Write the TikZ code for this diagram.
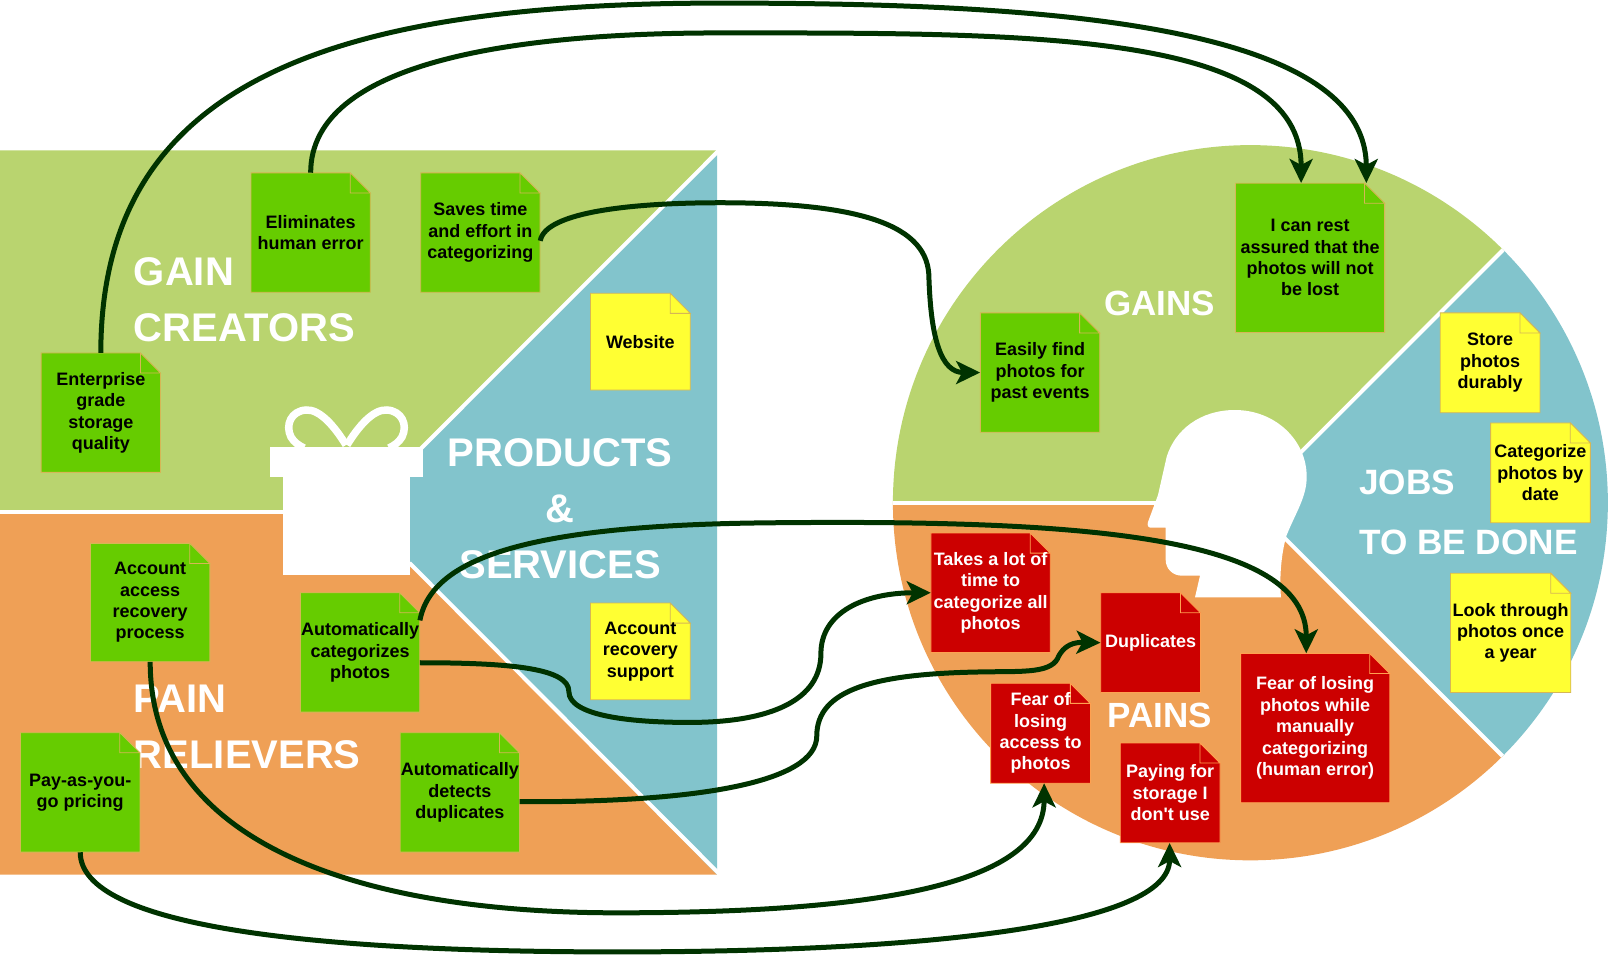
\documentclass[tikz,border=0pt]{standalone}
\usepackage{fontspec}
\setmainfont{Liberation Sans}
\newfontfamily\rawfont{Liberation Sans}
\usetikzlibrary{arrows.meta,calc}
\definecolor{panelgreen}{HTML}{B9D46F}
\definecolor{panelorange}{HTML}{EFA056}
\definecolor{panelblue}{HTML}{82C4CC}
\definecolor{notegreen}{HTML}{66CC00}
\definecolor{noteyellow}{HTML}{FFFF33}
\definecolor{notered}{HTML}{CC0000}
\definecolor{edgegold}{HTML}{D6B656}
\definecolor{edgepink}{HTML}{FFA050}
\definecolor{linkgreen}{HTML}{003300}
\tikzset{
  greennote/.style={fill=notegreen,draw=edgegold,line width=0.8pt},
  yellownote/.style={fill=noteyellow,draw=edgegold,line width=0.8pt},
  rednote/.style={fill=notered,draw=edgepink,line width=0.8pt},
  notetext/.style={align=center,inner sep=0pt,font=\fontsize{18}{21.4}\selectfont\bfseries},
  bigleft/.style={align=left,inner sep=0pt,text=white,font=\fontsize{40}{56}\selectfont\bfseries},
  bigcentre/.style={align=center,inner sep=0pt,text=white,font=\fontsize{40}{56}\selectfont\bfseries},
  bigright/.style={align=left,inner sep=0pt,text=white,font=\fontsize{35.2}{60}\selectfont\bfseries},
  gap/.style={draw=white,line width=4pt},
  link/.style={draw=linkgreen,line width=5pt,-{Stealth[length=24pt,width=23pt,inset=6pt]}},
}
% name, style, x1, y1, x2, y2, text colour, text
\newcommand{\stickynote}[8]{%
  \draw[#2,line join=miter] (#3,#4) -- ({#5-19.5},#4) -- (#5,{#4+19.5}) -- (#5,#6) -- (#3,#6) -- cycle;
  \draw[#2,line join=miter] ({#5-19.5},#4) -- ({#5-19.5},{#4+19.5}) -- (#5,{#4+19.5}) -- cycle;
  \node[notetext,text=#7,minimum width={(#5-#3)*1.0287pt},minimum height={(#6-#4)*1.0287pt}] (#1) at ({(#3+#5)/2},{(#4+#6)/2}) {#8};
}
\begin{document}
\begin{tikzpicture}[x=1.0287pt,y=-1.0291pt]
\useasboundingbox (0,0) rectangle (1568,928);
\fill[white] (0,0) rectangle (1568,928);
% left panel
\fill[panelgreen] (0,146) -- (697,146) -- (349,497) -- (0,497) -- cycle;
\fill[panelorange] (0,497) -- (349,497) -- (697,850) -- (0,850) -- cycle;
\fill[panelblue] (697,146) -- (697,850) -- (349,497) -- cycle;
\draw[gap] (0,497.5) -- (349,497.5);
\draw[gap] (699,146) -- (400,445);
\draw[gap] (398,547) -- (699,849);
% right panel
\begin{scope}
\clip (1215.5,488.5) circle (347.5);
\fill[panelgreen] (860,489) -- (1215,489) -- (1570,134) -- (860,134) -- cycle;
\fill[panelorange] (860,489) -- (1215,489) -- (1570,844) -- (860,844) -- cycle;
\fill[panelblue] (1215,489) -- (1570,134) -- (1570,844) -- cycle;
\draw[gap] (860,489) -- (1215,489);
\draw[gap] (1215,489) -- (1570,134);
\draw[gap] (1215,489) -- (1570,844);
\end{scope}
% headings
\node[bigleft,anchor=west] (gaincreators) at (130,291.5) {GAIN\\CREATORS};
\node[bigcentre] (products) at (544.5,494.5) {PRODUCTS\\\&\\SERVICES};
\node[bigleft,anchor=west] (painrelievers) at (130,706) {PAIN\\RELIEVERS};
\node[inner sep=0pt,text=white,font=\fontsize{35}{40}\selectfont\bfseries] (gains) at (1127.5,295) {GAINS};
\node[inner sep=0pt,text=white,font=\fontsize{35}{40}\selectfont\bfseries] (pains) at (1127.5,695) {PAINS};
\node[bigright,anchor=west] (jobs) at (1321,498) {JOBS\\TO BE DONE};
% gift and head, in full-size pixels
\begin{scope}[x=1pt,y=-1pt]
\draw[white,line width=7.5pt] (346,445) .. controls (335,427) and (320,409) .. (306,410) .. controls (291,411) and (285,425) .. (291,437) .. controls (294,442) and (298,445) .. (304,448);
\draw[white,line width=7.5pt] (347,445) .. controls (358,427) and (373,409) .. (387,410) .. controls (402,411) and (408,425) .. (402,437) .. controls (399,442) and (395,445) .. (389,448);
\fill[white] (270,447) rectangle (423,477);
\fill[white] (283,477) rectangle (410,575);
\fill[white] (1235,410) .. controls (1275,410) and (1306.7,440) .. (1306.7,476.7) .. controls (1306.7,497) and (1296,512) .. (1286.7,535) .. controls (1282,550) and (1279,575) .. (1281,597.3) -- (1195,597.3) -- (1200,575.7) -- (1182,575.7) .. controls (1172,575.7) and (1165.7,568) .. (1165.7,560) -- (1165.7,527.7) -- (1151,527.7) .. controls (1148,527.7) and (1147,525) .. (1148,522) -- (1158,495) -- (1166.7,456.7) .. controls (1175,430) and (1200,410) .. (1235,410) -- cycle;
\end{scope}
% notes, left
\stickynote{enterprise}{greennote}{40}{343}{156}{459}{black}{Enterprise\\grade\\storage\\quality}
\stickynote{eliminates}{greennote}{244}{168}{360}{284}{black}{Eliminates\\human error}
\stickynote{saves}{greennote}{409}{168}{525}{284}{black}{Saves time\\and effort in\\categorizing}
\stickynote{website}{yellownote}{574}{285}{671}{379}{black}{Website}
\stickynote{support}{yellownote}{574}{586}{671}{680}{black}{Account\\recovery\\support}
\stickynote{access}{greennote}{88}{528}{204}{643}{black}{Account\\access\\recovery\\process}
\stickynote{autocat}{greennote}{292}{576}{408}{692}{black}{Automatically\\categorizes\\photos}
\stickynote{payg}{greennote}{20}{712}{136}{828}{black}{Pay-as-you-\\go pricing}
\stickynote{autodup}{greennote}{389}{712}{505}{828}{black}{Automatically\\detects\\duplicates}
% notes, right
\stickynote{rest}{greennote}{1201}{178}{1346}{323}{black}{I can rest\\assured that the\\photos will not\\be lost}
\stickynote{easily}{greennote}{953}{304}{1069}{420}{black}{Easily find\\photos for\\past events}
\stickynote{store}{yellownote}{1400}{304}{1497}{401}{black}{Store\\photos\\durably}
\stickynote{bydate}{yellownote}{1449}{411}{1546}{508}{black}{Categorize\\photos by\\date}
\stickynote{look}{yellownote}{1410}{557}{1527}{673}{black}{Look through\\photos once\\a year}
\stickynote{takes}{rednote}{905}{518}{1021}{634}{white}{Takes a lot of\\time to\\categorize all\\photos}
\stickynote{dups}{rednote}{1070}{576}{1167}{673}{white}{Duplicates}
\stickynote{fearaccess}{rednote}{963}{664}{1060}{761}{white}{Fear of\\losing\\access to\\photos}
\stickynote{paying}{rednote}{1089}{722}{1186}{819}{white}{Paying for\\storage I\\{\rawfont\bfseries don't} use}
\stickynote{fearmanual}{rednote}{1206}{635}{1351}{780}{white}{Fear of losing\\photos while\\manually\\categorizing\\(human error)}
% connectors
\draw[link] (enterprise.north) .. controls (98,80) and (320,3) .. (700,3) .. controls (1000,3) and (1328,20) .. ($(rest.north east)+(-18,0)$);
\draw[link] (eliminates.north) .. controls (302,60) and (500,32) .. (700,32) .. controls (1000,32) and (1265,30) .. ($(rest.north west)+(64,0)$);
\draw[link] ($(saves.east)+(0,8)$) .. controls (530,205) and (620,197) .. (700,197) .. controls (840,197) and (903,220) .. (903,270) .. controls (905,330) and (915,362) .. (easily.west);
\draw[link] ($(autocat.north east)+(0,27)$) .. controls (420,540) and (520,510) .. (750,508) .. controls (1050,505) and (1270,520) .. ($(fearmanual.north west)+(64,0)$);
\draw[link] ($(autocat.east)+(0,10)$) .. controls (500,644) and (553,650) .. (553,672) .. controls (553,695) and (610,702) .. (670,702) .. controls (750,702) and (798,680) .. (798,635) .. controls (798,595) and (840,576) .. (takes.west);
\draw[link] ($(autodup.east)+(0,9)$) .. controls (680,780) and (794,760) .. (794,715) .. controls (794,670) and (850,655) .. (950,653) .. controls (990,652) and (1020,655) .. (1028,640) .. controls (1034,626) and (1045,624) .. (dups.west);
\draw[link] (access.south) .. controls (146,820) and (350,887) .. (600,887) .. controls (850,887) and (1015,860) .. ($(fearaccess.south)+(3.5,0)$);
\draw[link] (payg.south) .. controls (78,900) and (300,925) .. (600,925) .. controls (900,925) and (1137,900) .. ($(paying.south)+(-0.5,0)$);
\end{tikzpicture}
\end{document}
